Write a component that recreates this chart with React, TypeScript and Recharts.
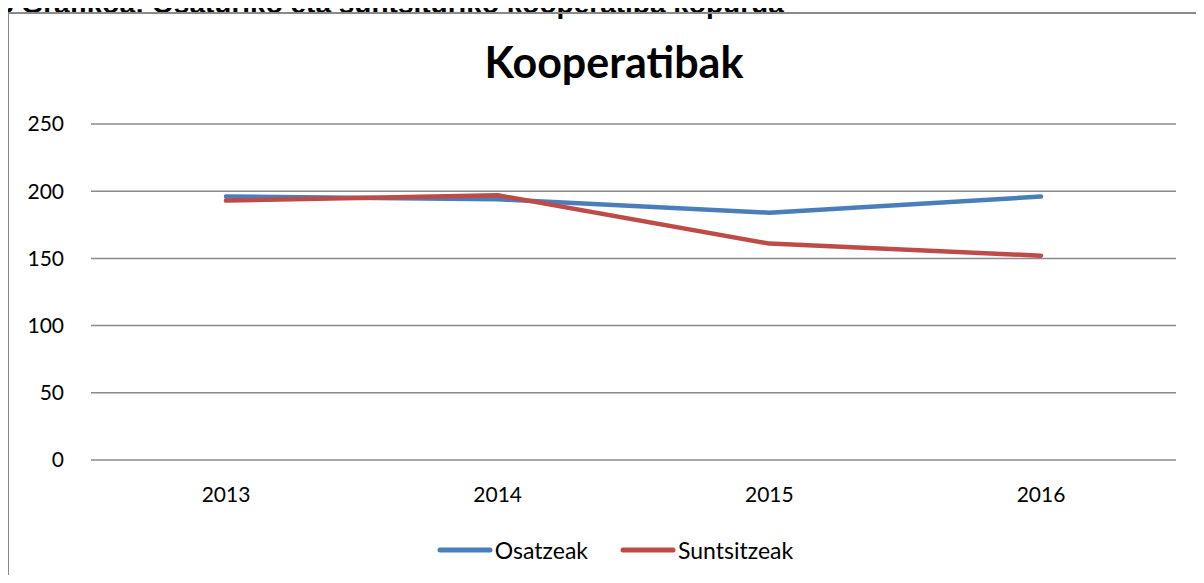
import React from 'react';
import { LineChart, Line, XAxis, YAxis, CartesianGrid, Legend } from 'recharts';

const years = ['2013', '2014', '2015', '2016'];
const osatzeak = [196, 194, 184, 196];
const suntsitzeak = [193, 197, 161, 152];
const yTicks = [0, 50, 100, 150, 200, 250];

const data = years.map((y, i) => ({ year: y, Osatzeak: osatzeak[i], Suntsitzeak: suntsitzeak[i] }));

const FONT = 'Lato, "Open Sans", sans-serif';

const LegendContent = (props: any) => {
  const { payload } = props;
  return (
    <div style={{ height: 60, boxSizing: 'border-box', paddingTop: 28, paddingLeft: 54, display: 'flex', justifyContent: 'center', fontFamily: FONT }}>
      {(payload || []).map((p: any, i: number) => (
        <div key={i} style={{ display: 'flex', alignItems: 'center', height: 24, marginLeft: i === 0 ? 0 : 32 }}>
          <svg width={56} height={8} style={{ display: 'block' }}>
            <line x1={3} y1={4} x2={53} y2={4} stroke={p.color} strokeWidth={5} strokeLinecap="round" />
          </svg>
          <span style={{ fontSize: 23, color: '#000', marginLeft: 2, lineHeight: '24px' }}>{p.value}</span>
        </div>
      ))}
    </div>
  );
};

export default function App() {
  return (
    <div style={{ position: 'relative', width: 1204, height: 583, margin: -8, overflow: 'hidden', background: '#fff' }}>
      <div style={{ position: 'absolute', left: -2, top: -10, whiteSpace: 'nowrap', fontFamily: '"Liberation Sans", Arial, sans-serif', fontWeight: 700, fontSize: 28, lineHeight: '28px', color: '#000' }}>
        3 Grafikoa: Osaturiko eta suntsituriko kooperatiba kopurua
      </div>
      <div style={{ position: 'absolute', left: 7, top: 12, width: 1300, height: 700, borderLeft: '2px solid #8a8a8a', borderTop: '2px solid #8a8a8a' }} />
      <div style={{ position: 'absolute', left: 0, top: 40, width: 1228, textAlign: 'center', fontFamily: FONT, fontWeight: 700, fontSize: 43, lineHeight: '43px', color: '#000' }}>
        Kooperatibak
      </div>
      <div style={{ position: 'absolute', left: 0, top: 0 }}>
        <LineChart width={1204} height={583} data={data} margin={{ top: 124, right: 28, left: 0, bottom: 13 }}>
          <CartesianGrid vertical={false} stroke="#8a8a8a" strokeWidth={1.5} />
          <XAxis
            dataKey="year"
            padding={{ left: 135, right: 135 }}
            axisLine={false}
            tickLine={false}
            tickSize={0}
            tickMargin={27}
            height={50}
            tick={{ fontSize: 21, fill: '#000', fontFamily: FONT }}
          />
          <YAxis
            domain={[0, 250]}
            ticks={yTicks}
            axisLine={false}
            tickLine={false}
            tickSize={0}
            tickMargin={27}
            width={91}
            tick={{ fontSize: 21, fill: '#000', fontFamily: FONT }}
          />
          <Legend verticalAlign="bottom" content={<LegendContent />} />
          <Line type="linear" dataKey="Osatzeak" stroke="#4A7EBB" strokeWidth={4.5} strokeLinecap="round" strokeLinejoin="round" dot={false} activeDot={false} isAnimationActive={false} />
          <Line type="linear" dataKey="Suntsitzeak" stroke="#BE4B48" strokeWidth={4.5} strokeLinecap="round" strokeLinejoin="round" dot={false} activeDot={false} isAnimationActive={false} />
        </LineChart>
      </div>
    </div>
  );
}
